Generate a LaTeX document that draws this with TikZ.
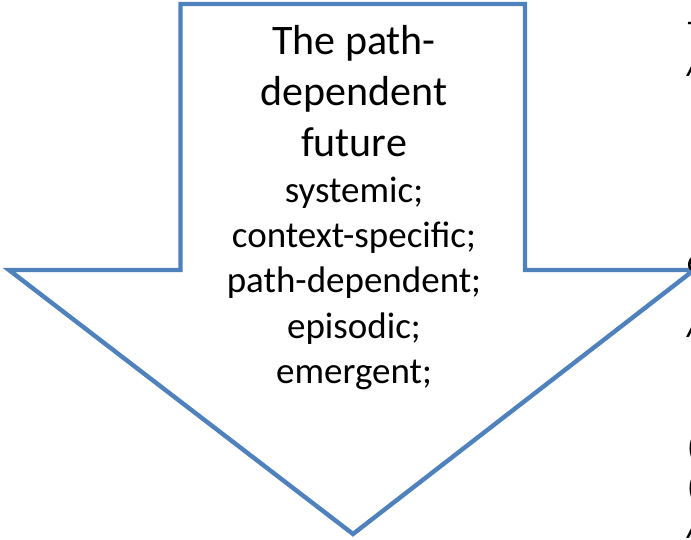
\documentclass[tikz,border=0pt]{standalone}
\usepackage{fontspec}
\setmainfont{Carlito}
\definecolor{arrowblue}{HTML}{4F81BD}
\begin{document}
\begin{tikzpicture}[x=1pt,y=-1pt,
  arrowline/.style={draw=arrowblue, line width=4.4pt, line join=miter, fill=white},
  bigtext/.style={anchor=base, inner sep=0pt, font=\fontsize{42}{51}\selectfont},
  smalltext/.style={anchor=base, inner sep=0pt, font=\fontsize{37}{45}\selectfont},
  sidetext/.style={anchor=base west, inner sep=0pt, font=\fontsize{33}{40}\selectfont\itshape}]
\useasboundingbox (0,0) rectangle (691,540);
\fill[white] (0,0) rectangle (691,540);

% outline of the down arrow
\coordinate (tl)  at (180.5,4);
\coordinate (tr)  at (525,4);
\coordinate (sr)  at (525,270);
\coordinate (wr)  at (694,270);
\coordinate (tip) at (353,534);
\coordinate (wl)  at (9,270);
\coordinate (sl)  at (180.5,270);
\draw[arrowline] (tl) -- (tr) -- (sr) -- (wr) -- (tip) -- (wl) -- (sl) -- cycle;

% text inside the arrow
\node[bigtext] (t1) at (354,55)  {The path-};
\node[bigtext] (t2) at (354,106) {dependent};
\node[bigtext] (t3) at (354,157) {future};
\node[smalltext] (s1) at (354,203) {systemic;};
\node[smalltext] (s2) at (354,248) {context-specific;};
\node[smalltext] (s3) at (354,293) {path-dependent;};
\node[smalltext] (s4) at (354,338) {episodic;};
\node[smalltext] (s5) at (354,383) {emergent;};

% italic column running off the right edge
\begin{scope}
\clip (0,0) rectangle (691,540);
\node[sidetext] (r1) at (686,44)  {T};
\node[sidetext] (r2) at (687,77)  {A};
\node[sidetext] (r3) at (687,272) {e};
\node[sidetext] (r4) at (687,337) {A};
\node[sidetext] (r5) at (687,455) {(};
\node[sidetext] (r6) at (687,495) {(};
\node[sidetext] (r7) at (687,538) {A};
\end{scope}
\end{tikzpicture}
\end{document}
